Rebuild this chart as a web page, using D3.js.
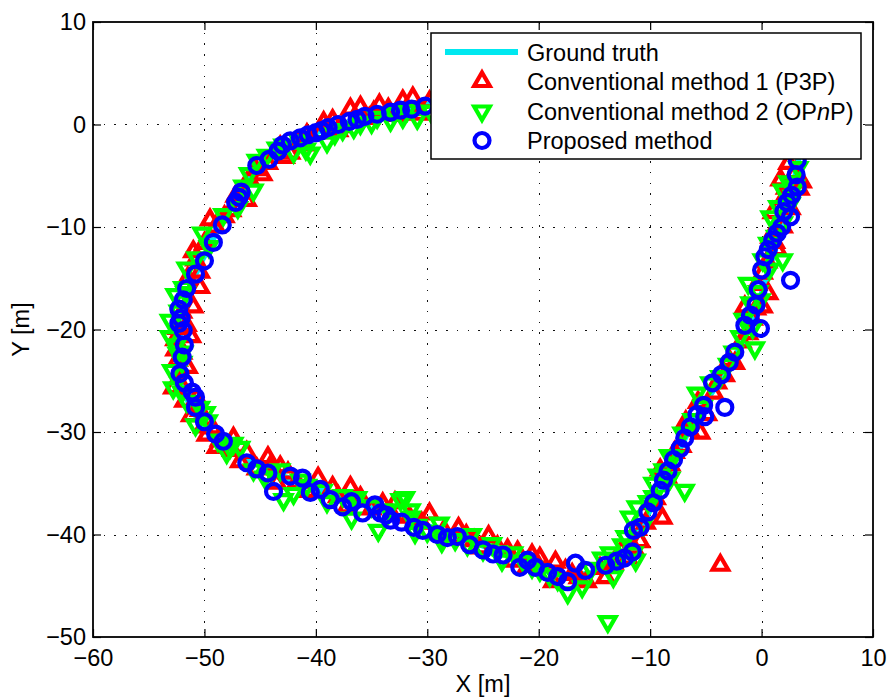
<!DOCTYPE html>
<html>
<head>
<meta charset="utf-8">
<script src="https://cdn.jsdelivr.net/npm/d3@7"></script>
<style>
  html, body { margin: 0; padding: 0; background: #fff; }
  svg { display: block; font-family: "Liberation Sans", Arial, Helvetica, sans-serif; }
</style>
</head>
<body>
<svg id="chart" width="889" height="698"></svg>
<script>
// Axis ticks
const xTicks = [-60, -50, -40, -30, -20, -10, 0, 10];
const yTicks = [-50, -40, -30, -20, -10, 0, 10];

// Legend labels
const legendLabels = ["Ground truth", "Conventional method 1 (P3P)", "Conventional method 2 (OPnP)", "Proposed method"];

// Reference trajectory [x, y] in metres (closed loop)
const groundTruth = [
  [-30,1.9],[-33,1.3],[-35.6,0.7],[-38.5,-0.2],[-41,-1.2],[-43,-2.4],[-44.8,-3.8],[-46.2,-5.5],
  [-47.5,-7.8],[-48.8,-10.3],[-50.2,-13.2],[-51.3,-15.8],[-52,-18.5],[-52.3,-21.5],[-52.1,-24.5],
  [-51.4,-27.2],[-50.2,-29.5],[-48.5,-31.2],[-46,-32.8],[-43,-34.3],[-40,-35.5],[-37,-36.6],
  [-34,-37.7],[-31,-38.8],[-28,-39.9],[-25,-41.1],[-22,-42.4],[-19.5,-43.5],[-17.2,-44.1],
  [-15,-43.7],[-13,-42.5],[-11.6,-40.6],[-10.3,-38.2],[-9,-35.5],[-7.8,-32.6],[-6.5,-29.8],
  [-5,-27],[-3.4,-24.4],[-1.8,-21.6],[-0.6,-18.6],[0.3,-15.5],[1.2,-12.2],[2.2,-8.6],[3,-5.2],
  [3.5,-2.2],[3.2,0.5],[1.5,2.4],[-3,3.4],[-10,3.6],[-18,3.4],[-25,2.8],[-30,1.9]
];

// Estimated positions, conventional method 1 (P3P)
const p3p = [
  [-29.8,2.2],[-31.3,2.6],[-32.2,2.3],[-33.5,1.5],[-34.3,1.9],[-36.0,1.7],[-36.9,1.5],[-35.2,0.6],
  [-37.6,-0.2],[-38.5,0.4],[-39.6,-0.8],[-40.8,-1.0],[-41.6,-1.7],[-42.3,-2.8],[-43.2,-2.2],
  [-44.3,-3.8],[-44.8,-4.9],[-46.0,-5.3],[-46.6,-6.7],[-46.2,-7.4],[-47.6,-8.4],[-49.5,-9.3],
  [-49.0,-10.0],[-50.8,-13.2],[-50.4,-14.4],[-50.4,-15.9],[-51.5,-15.0],[-51.0,-17.8],[-51.6,-19.6],
  [-52.4,-19.9],[-51.2,-20.7],[-52.0,-22.3],[-52.6,-22.0],[-51.5,-23.7],[-52.2,-24.1],[-52.8,-25.7],
  [-52.0,-25.6],[-50.7,-26.7],[-50.4,-27.9],[-51.2,-28.4],[-50.1,-29.5],[-49.8,-30.3],[-48.6,-30.8],
  [-48.9,-31.5],[-47.5,-31.8],[-46.2,-32.0],[-46.8,-32.9],[-44.3,-32.5],[-44.0,-33.2],[-43.2,-33.4],
  [-43.5,-35.0],[-41.7,-34.9],[-39.8,-34.5],[-38.5,-35.4],[-36.9,-35.4],[-37.2,-37.3],[-35.0,-37.5],
  [-32.9,-36.9],[-31.6,-38.3],[-29.8,-38.0],[-28.5,-39.6],[-27.2,-39.4],[-25.8,-40.6],[-24.5,-40.2],
  [-23.7,-41.2],[-22.8,-41.5],[-21.9,-41.7],[-20.6,-42.0],[-19.9,-42.3],[-18.5,-42.7],[-18.7,-44.6],
  [-17.0,-43.9],[-15.7,-44.6],[-14.5,-43.3],[-13.3,-42.8],[-12.0,-42.3],[-11.5,-41.3],[-10.9,-40.7],
  [-8.9,-38.4],[-9.9,-37.0],[-9.1,-33.7],[-8.5,-34.4],[-7.8,-32.0],[-6.5,-29.8],[-5.5,-30.1],
  [-5.7,-27.1],[-4.3,-26.2],[-3.3,-24.5],[-3.7,-43.0],[-2.4,-23.3],[-1.8,-21.2],[-0.8,-19.0],
  [-1.5,-17.8],[0.1,-17.8],[-0.4,-15.6],[0.1,-14.5],[1.4,-12.2],[0.8,-11.0],[1.9,-10.0],[1.0,-8.6],
  [2.0,-7.2],[1.7,-5.4],[3.6,-5.6],[2.4,-3.8],
  [-30.8,1.0],[-32.8,0.9],[-34.8,1.2],[-38.0,-0.6],[-39.3,0.2],[-41.0,-2.0],[-42.8,-3.2],[-45.4,-4.4],
  [-47.2,-7.0],[-48.2,-9.0],[-50.0,-11.6],[-51.0,-12.4],[-52.0,-18.3],[-52.6,-21.0],[-52.4,-23.0],
  [-51.8,-27.0],[-49.3,-29.6],[-47.4,-30.6],[-45.3,-33.6],[-42.5,-34.0],[-40.8,-35.8],[-38.0,-36.3],
  [-36.0,-36.4],[-34.0,-37.0],[-33.2,-38.0],[-30.5,-38.9],[-26.5,-40.1],[-25.2,-41.3],[-22.3,-42.6],
  [-21.0,-43.1],[-17.6,-43.5],[-16.4,-44.2],[-14.0,-44.2],[-12.6,-41.6],[-11.2,-39.5],[-10.4,-38.9],
  [-9.5,-36.5],[-8.2,-33.2],[-7.2,-31.4],[-6.8,-29.0],[-4.9,-28.3],[-4.0,-25.2],[-2.9,-23.0],
  [-1.2,-20.4],[-0.5,-18.0],[0.6,-16.5],[0.5,-13.4],[1.2,-11.5],[2.6,-8.2],[2.2,-6.2],[3.0,-4.7],
  [3.4,-6.3]
];

// Estimated positions, conventional method 2 (OPnP)
const opnp = [
  [-29.7,1.3],[-30.9,0.6],[-32.2,0.7],[-33.3,0.4],[-34.5,0.7],[-36.0,0.1],[-37.6,-0.5],[-39.0,-1.7],
  [-40.5,-2.8],[-40.9,-2.4],[-42.9,-2.0],[-43.5,-2.3],[-44.4,-3.0],[-45.3,-3.5],[-45.6,-6.4],
  [-47.0,-8.1],[-46.5,-6.0],[-50.2,-10.6],[-51.6,-14.0],[-51.9,-15.9],[-52.6,-16.6],[-51.7,-16.4],
  [-53.1,-19.1],[-53.1,-20.7],[-52.5,-21.5],[-51.9,-22.2],[-52.4,-22.3],[-52.0,-23.2],[-52.8,-25.7],
  [-52.0,-26.1],[-50.4,-27.6],[-49.9,-28.1],[-49.7,-28.9],[-48.0,-32.0],[-47.4,-31.1],[-46.8,-31.5],
  [-47.7,-31.5],[-45.6,-33.7],[-43.2,-33.7],[-42.9,-36.6],[-42.0,-36.0],[-41.4,-34.7],[-40.8,-35.2],
  [-39.4,-35.7],[-36.8,-38.4],[-36.5,-36.6],[-36.3,-36.4],[-34.4,-39.6],[-32.4,-36.6],[-32.0,-36.4],
  [-31.5,-38.3],[-31.5,-37.6],[-31.1,-39.8],[-30.9,-39.1],[-28.9,-38.9],[-28.7,-40.2],[-28.7,-40.7],
  [-26.4,-41.0],[-26.0,-40.0],[-23.7,-41.7],[-23.3,-42.5],[-22.3,-41.8],[-20.6,-43.2],[-19.9,-43.5],
  [-18.3,-44.4],[-17.4,-45.7],[-16.1,-45.1],[-14.3,-42.3],[-13.3,-44.1],[-13.8,-48.5],[-13.6,-41.8],
  [-12.5,-41.0],[-12.2,-40.2],[-11.3,-42.5],[-11.5,-41.8],[-11.8,-38.3],[-11.2,-37.3],[-9.7,-36.3],
  [-9.7,-35.0],[-8.5,-35.0],[-8.2,-34.5],[-8.8,-33.7],[-7.9,-32.4],[-6.9,-35.7],[-7.1,-30.1],
  [-5.8,-26.2],[-4.6,-25.2],[-3.7,-24.6],[-1.9,-20.7],[-0.8,-19.8],[-0.6,-21.8],[-1.0,-17.4],
  [-0.1,-17.1],[-1.2,-15.5],[0.1,-13.2],[1.9,-13.2],[1.9,-9.6],[0.8,-9.0],[2.6,-7.7],[2.8,-7.0],
  [1.9,-6.4],[3.3,-4.2],
  [-31.8,1.4],[-33.0,1.1],[-35.0,0.2],[-36.6,-0.3],[-38.3,-0.9],[-41.5,-1.6],[-42.0,-2.7],[-46.0,-4.8],
  [-48.3,-8.8],[-49.6,-11.9],[-50.7,-13.0],[-52.3,-18.2],[-52.9,-24.0],[-51.6,-27.0],[-50.8,-29.3],
  [-48.8,-30.8],[-44.6,-34.4],[-44.0,-33.8],[-39.0,-36.8],[-37.6,-36.2],[-35.0,-37.2],[-33.5,-37.6],
  [-30.0,-39.7],[-27.5,-40.5],[-25.0,-41.5],[-24.2,-40.9],[-21.4,-42.6],[-19.0,-44.0],[-15.3,-43.3],
  [-12.9,-42.6],[-10.6,-39.0],[-10.2,-36.8],[-9.3,-34.2],[-8.3,-32.3],[-6.2,-28.8],[-5.3,-27.5],
  [-3.0,-23.4],[-2.5,-22.2],[-1.6,-19.0],[-0.3,-16.3],[0.7,-14.1],[0.6,-11.6],[1.3,-10.9],[1.5,-8.0],
  [2.4,-5.6],[3.0,-6.0]
];

// Estimated positions, proposed method
const proposed = [
  [-30.2,1.8],[-31.4,1.5],[-33.3,1.2],[-34.5,1.0],[-35.6,0.8],[-37.0,0.3],[-38.0,0.0],[-38.9,-0.3],
  [-40.0,-0.8],[-41.4,-1.3],[-42.3,-1.6],[-43.4,-2.6],[-44.2,-3.4],[-45.3,-4.0],[-46.7,-6.6],
  [-46.9,-7.1],[-48.4,-9.8],[-50.0,-13.3],[-50.8,-14.6],[-51.6,-16.0],[-51.9,-17.1],[-52.1,-18.9],
  [-52.3,-19.4],[-51.9,-20.1],[-51.8,-21.5],[-52.2,-24.3],[-51.8,-25.2],[-51.1,-26.1],[-50.8,-26.6],
  [-50.8,-27.6],[-49.0,-30.2],[-48.3,-30.9],[-46.2,-33.0],[-44.3,-34.0],[-43.8,-35.8],[-42.3,-34.3],
  [-41.2,-34.5],[-40.5,-35.9],[-38.7,-36.6],[-37.6,-37.3],[-36.8,-36.8],[-35.8,-37.9],[-34.7,-37.1],
  [-34.2,-37.9],[-33.3,-38.6],[-32.3,-38.8],[-30.4,-39.6],[-29.1,-40.0],[-27.3,-40.2],[-26.2,-41.0],
  [-25.0,-41.5],[-23.2,-42.0],[-21.7,-43.2],[-21.0,-42.5],[-19.2,-43.7],[-17.4,-44.6],[-16.7,-42.8],
  [-15.8,-43.5],[-14.0,-43.0],[-13.0,-42.6],[-11.6,-41.7],[-11.5,-39.6],[-10.9,-39.3],[-10.2,-37.8],
  [-9.1,-35.7],[-8.4,-33.8],[-7.9,-32.7],[-7.3,-31.6],[-6.4,-29.5],[-5.1,-28.5],[-5.2,-27.4],
  [-3.3,-27.6],[-4.4,-25.2],[-2.4,-22.2],[-1.5,-19.6],[-0.1,-19.9],[-0.5,-17.6],[-0.3,-16.1],
  [2.6,-15.2],[0.3,-12.9],[0.6,-12.2],[1.4,-10.6],[1.8,-10.0],[2.6,-9.0],[2.3,-7.6],[3.2,-6.1],
  [3.1,-4.9],[3.2,-3.5],
  [-32.4,1.4],[-36.3,0.5],[-39.5,-0.6],[-40.7,-1.0],[-43.0,-2.0],[-47.2,-7.6],[-49.2,-11.5],
  [-52.0,-22.7],[-52.3,-18.0],[-50.0,-29.0],[-45.3,-33.6],[-39.6,-35.6],[-33.7,-38.1],[-31.2,-39.3],
  [-28.2,-40.3],[-24.1,-41.9],[-20.3,-43.2],[-18.3,-44.1],[-12.3,-42.3],[-9.7,-36.9],[-8.8,-34.7],
  [-6.9,-30.6],[-5.8,-28.3],[-3.6,-24.4],[-2.9,-23.2],[-1.0,-18.6],[0.0,-14.2],[1.0,-11.3],
  [2.0,-8.5],[2.7,-6.9]
];

const COLORS = { truth: "#00e8f0", p3p: "#ff0000", opnp: "#00ff00", proposed: "#0000ff" };

const svg = d3.select("#chart");
const plot = { left: 93, right: 873, top: 22, bottom: 637 };
const FONT = 23.5;

const x = d3.scaleLinear().domain([-60, 10]).range([plot.left, plot.right]);
const y = d3.scaleLinear().domain([-50, 10]).range([plot.bottom, plot.top]);

// Dotted grid
const grid = svg.append("g").attr("stroke", "#111").attr("stroke-width", 1)
  .attr("stroke-dasharray", "1.5,9.2").attr("shape-rendering", "crispEdges");
grid.selectAll("line.gx").data(xTicks.slice(1, -1)).join("line").attr("class", "gx")
  .attr("x1", d => Math.round(x(d)) + 0.5).attr("x2", d => Math.round(x(d)) + 0.5)
  .attr("y1", plot.top).attr("y2", plot.bottom);
grid.selectAll("line.gy").data(yTicks.slice(1, -1)).join("line").attr("class", "gy")
  .attr("y1", d => Math.round(y(d)) + 0.5).attr("y2", d => Math.round(y(d)) + 0.5)
  .attr("x1", plot.left).attr("x2", plot.right);

// Clip region for the data layer
svg.append("clipPath").attr("id", "plotClip").append("rect")
  .attr("x", plot.left).attr("y", plot.top)
  .attr("width", plot.right - plot.left).attr("height", plot.bottom - plot.top);

const data = svg.append("g").attr("clip-path", "url(#plotClip)");

// Ground-truth path
data.append("path").datum(groundTruth)
  .attr("d", d3.line().x(d => x(d[0])).y(d => y(d[1])))
  .attr("fill", "none").attr("stroke", COLORS.truth).attr("stroke-width", 6)
  .attr("stroke-linejoin", "round");

// Marker shapes, centred on the centroid
const triUp = "M0,-9L7.8,4.5L-7.8,4.5Z";
const triDown = "M0,9L7.8,-4.5L-7.8,-4.5Z";
const TRI_W = 4.2, CIRC_R = 7.5, CIRC_W = 4.2;

function drawTriangles(g, pts, shape, color) {
  g.selectAll(null).data(pts).join("path")
    .attr("d", shape)
    .attr("transform", d => `translate(${x(d[0])},${y(d[1])})`)
    .attr("fill", "none").attr("stroke", color).attr("stroke-width", TRI_W)
    .attr("stroke-linejoin", "miter");
}
drawTriangles(data.append("g"), p3p, triUp, COLORS.p3p);
drawTriangles(data.append("g"), opnp, triDown, COLORS.opnp);
data.append("g").selectAll("circle").data(proposed).join("circle")
  .attr("cx", d => x(d[0])).attr("cy", d => y(d[1])).attr("r", CIRC_R)
  .attr("fill", "none").attr("stroke", COLORS.proposed).attr("stroke-width", CIRC_W);

// Axes (ticks point inward on all four sides)
const fmt = d3.format("d");
const axB = svg.append("g").attr("transform", `translate(0,${plot.bottom})`)
  .call(d3.axisBottom(x).tickValues(xTicks).tickFormat(fmt).tickSizeInner(-8).tickSizeOuter(0).tickPadding(12.5));
const axL = svg.append("g").attr("transform", `translate(${plot.left},0)`)
  .call(d3.axisLeft(y).tickValues(yTicks).tickFormat(fmt).tickSizeInner(-8).tickSizeOuter(0).tickPadding(7));
const axT = svg.append("g").attr("transform", `translate(0,${plot.top})`)
  .call(d3.axisTop(x).tickValues(xTicks).tickFormat("").tickSizeInner(-8).tickSizeOuter(0));
const axR = svg.append("g").attr("transform", `translate(${plot.right},0)`)
  .call(d3.axisRight(y).tickValues(yTicks).tickFormat("").tickSizeInner(-8).tickSizeOuter(0));

[axB, axL, axT, axR].forEach(a => {
  a.select(".domain").remove();
  a.selectAll(".tick line").attr("stroke", "#000").attr("stroke-width", 1.2);
  a.selectAll("text").attr("font-size", FONT).attr("font-family", "Liberation Sans, Arial, sans-serif").attr("fill", "#000");
});

// Axes box
svg.append("rect").attr("x", plot.left).attr("y", plot.top)
  .attr("width", plot.right - plot.left).attr("height", plot.bottom - plot.top)
  .attr("fill", "none").attr("stroke", "#000").attr("stroke-width", 1.8);

// Axis labels
svg.append("text").attr("x", (plot.left + plot.right) / 2).attr("y", 692)
  .attr("text-anchor", "middle").attr("font-size", FONT).text("X [m]");
svg.append("text").attr("transform", `translate(29,${(plot.top + plot.bottom) / 2}) rotate(-90)`)
  .attr("text-anchor", "middle").attr("font-size", FONT).text("Y [m]");

// Legend
const lg = svg.append("g");
lg.append("rect").attr("x", 431).attr("y", 33).attr("width", 430).attr("height", 126)
  .attr("fill", "#fff").attr("stroke", "#000").attr("stroke-width", 1.5);
const rowY = [52, 81.5, 111, 140.5];
lg.append("line").attr("x1", 445).attr("x2", 518).attr("y1", rowY[0]).attr("y2", rowY[0])
  .attr("stroke", COLORS.truth).attr("stroke-width", 6);
lg.append("path").attr("d", triUp).attr("transform", `translate(482,${rowY[1]})`)
  .attr("fill", "none").attr("stroke", COLORS.p3p).attr("stroke-width", TRI_W);
lg.append("path").attr("d", triDown).attr("transform", `translate(482,${rowY[2]})`)
  .attr("fill", "none").attr("stroke", COLORS.opnp).attr("stroke-width", TRI_W);
lg.append("circle").attr("cx", 482).attr("cy", rowY[3]).attr("r", CIRC_R)
  .attr("fill", "none").attr("stroke", COLORS.proposed).attr("stroke-width", CIRC_W);

legendLabels.forEach((label, i) => {
  const t = lg.append("text").attr("x", 527).attr("y", rowY[i] + 8.5).attr("font-size", FONT);
  const m = label.match(/^(.*\(OP)n(P\))$/);
  if (m) {
    t.append("tspan").text(m[1]);
    t.append("tspan").attr("font-style", "italic").text("n");
    t.append("tspan").text(m[2]);
  } else {
    t.text(label);
  }
});
</script>
</body>
</html>
